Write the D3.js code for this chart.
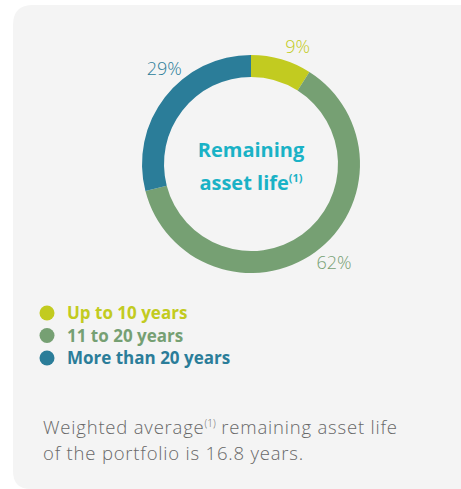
<!DOCTYPE html>
<html>
<head>
<meta charset="utf-8">
<script src="https://cdn.jsdelivr.net/npm/d3@7"></script>
<style>
  body { margin: 0; background: #ffffff; }
  svg { display: block; font-family: "Open Sans", Lato, sans-serif; }
</style>
</head>
<body>
<svg id="chart" width="461" height="489"></svg>
<script>
// chart data
var categories = ["Up to 10 years", "11 to 20 years", "More than 20 years"];
var shares = [9, 62, 29];
var colors = ["#c2cb20", "#76a073", "#2b7d99"];
var centerTitle = ["Remaining", "asset life"];
var footnoteLines = ["Weighted average", "of the portfolio is 16.8 years."];

var w = 461;
var h = 489;
var cx = 251, cy = 164;
var outerR = 109, innerR = 87;
var labelR = 129;
// small angle nudges (degrees) so labels sit where the designer put them
var labelNudge = [5, -4, 10];

var svg = d3.select("#chart");

// grey card
svg.append("path")
    .attr("d", "M13,25 Q13,5 33,5 L461,5 L461,489 L31,489 Q13,489 13,471 Z")
    .attr("fill", "#f4f4f4");

var data = categories.map(function(c, i) {
    return { name: c, value: shares[i], color: colors[i] };
});

var pie = d3.pie()
    .value(function(d) { return d.value; })
    .sort(null);

var arc = d3.arc()
    .innerRadius(innerR)
    .outerRadius(outerR);

var g = svg.append("g")
    .attr("transform", "translate(" + cx + "," + cy + ")");

var arcs = pie(data);

g.selectAll("path")
    .data(arcs)
    .enter()
    .append("path")
    .attr("d", arc)
    .attr("fill", function(d) { return d.data.color; });

g.selectAll("text.pct")
    .data(arcs)
    .enter()
    .append("text")
    .attr("class", "pct")
    .attr("x", function(d, i) {
        var a = (d.startAngle + d.endAngle) / 2 + labelNudge[i] * Math.PI / 180;
        return labelR * Math.sin(a);
    })
    .attr("y", function(d, i) {
        var a = (d.startAngle + d.endAngle) / 2 + labelNudge[i] * Math.PI / 180;
        return -labelR * Math.cos(a) + (i == 0 ? 3 : 0);
    })
    .attr("dy", "0.35em")
    .attr("text-anchor", "middle")
    .attr("font-size", 18)
    .attr("font-weight", 300)
    .attr("fill", function(d) { return d.data.color; })
    .text(function(d) { return d.data.value + "%"; });

// centre title
var title = g.append("text")
    .attr("text-anchor", "middle")
    .attr("font-size", 20)
    .attr("font-weight", 700)
    .attr("fill", "#1ab2c6");

title.append("tspan")
    .attr("x", 0)
    .attr("y", -7)
    .text(centerTitle[0]);

title.append("tspan")
    .attr("x", 0)
    .attr("y", 26)
    .text(centerTitle[1]);
title.append("tspan")
    .attr("font-size", 11)
    .attr("dy", -8)
    .text("(1)");

// legend
var legend = svg.append("g")
    .attr("transform", "translate(47,313)");

var rows = legend.selectAll("g")
    .data(data)
    .enter()
    .append("g")
    .attr("transform", function(d, i) { return "translate(0," + (i * 22.5) + ")"; });

rows.append("circle")
    .attr("r", 7.5)
    .attr("fill", function(d) { return d.color; });

rows.append("text")
    .attr("x", 20)
    .attr("dy", "0.36em")
    .attr("font-size", 17)
    .attr("font-weight", 700)
    .attr("fill", function(d) { return d.color; })
    .text(function(d) { return d.name; });

// footnote
var foot = svg.append("text")
    .attr("x", 43)
    .attr("y", 434)
    .attr("font-size", 18.5)
    .attr("letter-spacing", 0.8)
    .attr("font-weight", 300)
    .attr("fill", "#686868");

foot.append("tspan").text(footnoteLines[0]);
foot.append("tspan").attr("font-size", 10).attr("letter-spacing", 0).attr("dy", -7).text("(1)");
foot.append("tspan").attr("dy", 7).text(" remaining asset life");
foot.append("tspan").attr("x", 43).attr("y", 460).text(footnoteLines[1]);
</script>
</body>
</html>
